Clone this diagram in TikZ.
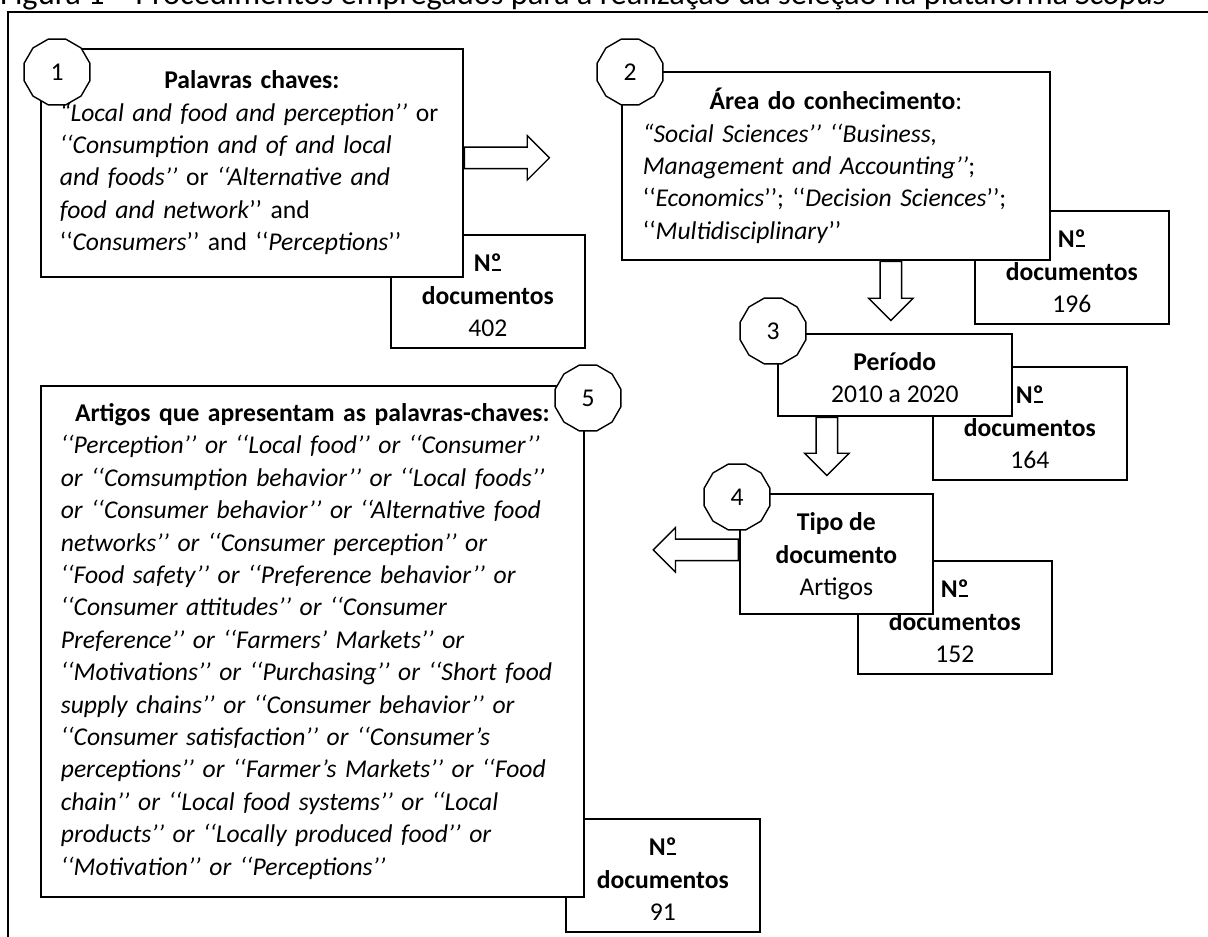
\documentclass[tikz,border=0pt]{standalone}
\usepackage{fontspec}
\setmainfont{Carlito}
\usetikzlibrary{shapes.geometric,shapes.arrows,positioning}
\newcommand\nro{N\ooalign{º\cr\hidewidth\rule[0.05em]{0.34em}{0.07em}\hidewidth\cr}}
\newcommand\qtd[1]{\rule{0pt}{26pt}\textbf{\nro}\\\textbf{documentos}\\#1}
\tikzset{
caixa/.style={shape=rectangle,draw,fill=white,line width=1.7pt,inner sep=0pt,anchor=north west},
texto/.style={font=\fontsize{25.6}{32.4}\selectfont},
contagem/.style={caixa,texto,align=center,minimum width=194pt,minimum height=113pt},
etapa/.style={shape=regular polygon,regular polygon sides=12,draw,fill=white,line width=1.4pt,minimum size=68pt,inner sep=0pt,texto},
seta/.style={shape=single arrow,draw,fill=white,line width=1.4pt,inner xsep=0pt,inner ysep=10pt,single arrow head extend=11.5pt,anchor=tail},
seta baixo/.style={seta,shape border rotate=270,inner xsep=10pt,inner ysep=0pt}
}

\begin{document}
\begin{tikzpicture}[x=1pt,y=-1pt]
\useasboundingbox (0,0) rectangle (1208,937);
\clip (0,0) rectangle (1208,937);
\draw[line width=1.4pt] (1230,12) -- (8,12) -- (8,960);
\node[anchor=base west,inner sep=0pt,font=\fontsize{32.4}{36}\selectfont] (titulo) at (0,4) {Figura 1 – Procedimentos empregados para a realização da seleção na plataforma \textit{Scopus}};

% quantidades
\node[contagem] (n402) at (390,234) {\qtd{402}};
\node[contagem] (n196) at (974,210) {\qtd{196}};
\node[contagem] (n164) at (932,366) {\qtd{164}};
\node[contagem] (n152) at (857,560) {\qtd{152}};
\node[contagem] (n91) at (565,818) {\qtd{91}};

% etapas
\node[caixa,texto,minimum width=422pt,minimum height=228pt,text width=384pt,align=left] (chaves) at (40,48) {{\centering\textbf{Palavras chaves:}\par}
\textit{“Local and food and perception’’} or\\
\textit{‘‘Consumption and of and local}\\
\textit{and foods’’} or \textit{‘‘Alternative and}\\
\textit{food and network}’’ and\\
‘‘\textit{Consumers}’’ and ‘‘\textit{Perceptions}’’};
\node[caixa,texto,minimum width=428pt,minimum height=188pt,text width=386pt,align=left] (area) at (621,71) {{\centering\textbf{Área do conhecimento}:\par}
\textit{“Social Sciences’’ ‘‘Business,}\\
\textit{Management and Accounting’’};\\
‘‘\textit{Economics}’’; ‘‘\textit{Decision Sciences}’’;\\
‘‘\textit{Multidisciplinary}’’};
\node[caixa,texto,align=center,minimum width=234pt,minimum height=82pt] (periodo) at (777,333) {\rule{0pt}{24pt}\textbf{Período}\\2010 a 2020};
\node[caixa,texto,align=center,minimum width=193pt,minimum height=120pt] (tipo) at (739,493) {\rule{0pt}{23pt}\textbf{Tipo de}\\\textbf{documento}\\Artigos};
\node[caixa,texto,minimum width=543pt,minimum height=511pt,text width=503pt,align=left] (artigos) at (40,385) {{\centering\textbf{Artigos que apresentam as palavras-chaves:}\par}\itshape
‘‘Perception’’ or ‘‘Local food’’ or ‘‘Consumer’’\\
or ‘‘Comsumption behavior’’ or ‘‘Local foods’’\\
or ‘‘Consumer behavior’’ or ‘‘Alternative food\\
networks’’ or ‘‘Consumer perception’’ or\\
‘‘Food safety’’ or ‘‘Preference behavior’’ or\\
‘‘Consumer attitudes’’ or ‘‘Consumer\\
Preference’’ or ‘‘Farmers’ Markets’’ or\\
‘‘Motivations’’ or ‘‘Purchasing’’ or ‘‘Short food\\
supply chains’’ or ‘‘Consumer behavior’’ or\\
‘‘Consumer satisfaction’’ or ‘‘Consumer’s\\
perceptions’’ or ‘‘Farmer’s Markets’’ or ‘‘Food\\
chain’’ or ‘‘Local food systems’’ or ‘‘Local\\
products’’ or ‘‘Locally produced food’’ or\\
‘‘Motivation’’ or ‘‘Perceptions’’};

% numeros
\node[etapa] (e1) at (57,72) {1};
\node[etapa] (e2) at (630,72) {2};
\node[etapa] (e3) at (773,331) {3};
\node[etapa] (e4) at (737,497) {4};
\node[etapa] (e5) at (588,398) {5};

% setas
\node[seta,minimum height=85pt] (s1) at ([yshift=5pt]chaves.east) {};
\node[seta baixo,minimum height=59pt] (s2) at ([xshift=55pt]area.south) {};
\node[seta baixo,minimum height=58pt] (s3) at ([xshift=-68pt]periodo.south) {};
\node[seta,minimum height=85pt,shape border rotate=180] (s4) at ([yshift=4pt]tipo.west) {};
\end{tikzpicture}
\end{document}
